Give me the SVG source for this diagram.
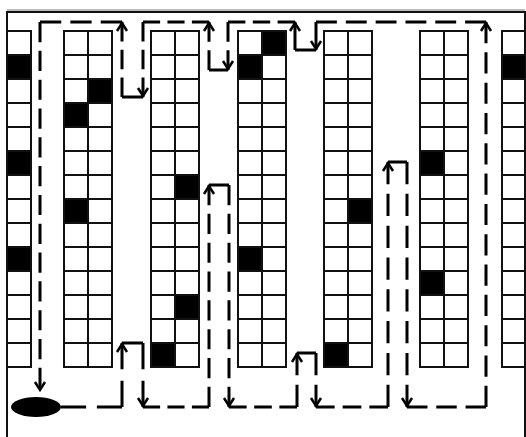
<svg xmlns="http://www.w3.org/2000/svg" width="526" height="437" viewBox="0 0 526 437">
<style>
.frame{fill:none;stroke:#111;stroke-width:2}
.shadow{fill:none;stroke:#bbb;stroke-width:2}
.grid{fill:none;stroke:#111;stroke-width:2}
.dark{fill:#000}
.route{fill:none;stroke:#000;stroke-width:3;stroke-dasharray:21 9}
.ah{fill:none;stroke:#000;stroke-width:2.5;stroke-linejoin:miter}
.start{fill:#000}
</style>
<defs>
<path id="g2" class="grid" d="M0,0H48V336H0Z M24,0V336 M0,24h48 M0,48h48 M0,72h48 M0,96h48 M0,120h48 M0,144h48 M0,168h48 M0,192h48 M0,216h48 M0,240h48 M0,264h48 M0,288h48 M0,312h48"/>
<path id="g1" class="grid" d="M0,0H24V336H0Z M0,24h24 M0,48h24 M0,72h24 M0,96h24 M0,120h24 M0,144h24 M0,168h24 M0,192h24 M0,216h24 M0,240h24 M0,264h24 M0,288h24 M0,312h24"/>
<path id="up" class="ah" d="M-5,9L0,1L5,9"/>
<path id="dn" class="ah" d="M-5,-9L0,-1L5,-9"/>
</defs>
<rect x="0" y="0" width="526" height="437" fill="#fff"/>
<path class="shadow" d="M7,10H525"/>
<path class="frame" d="M7,440V12H525V440"/>

<g id="rack0">
<rect class="dark" x="7" y="55" width="24" height="24"/>
<rect class="dark" x="7" y="151" width="24" height="24"/>
<rect class="dark" x="7" y="247" width="24" height="24"/>
<use href="#g1" x="7" y="31"/>
</g>
<g id="rack1">
<rect class="dark" x="88" y="79" width="24" height="24"/>
<rect class="dark" x="64" y="103" width="24" height="24"/>
<rect class="dark" x="64" y="199" width="24" height="24"/>
<use href="#g2" x="64" y="31"/>
</g>
<g id="rack2">
<rect class="dark" x="175" y="175" width="24" height="24"/>
<rect class="dark" x="175" y="295" width="24" height="24"/>
<rect class="dark" x="151" y="343" width="24" height="24"/>
<use href="#g2" x="151" y="31"/>
</g>
<g id="rack3">
<rect class="dark" x="262" y="31" width="24" height="24"/>
<rect class="dark" x="238" y="55" width="24" height="24"/>
<rect class="dark" x="238" y="247" width="24" height="24"/>
<use href="#g2" x="238" y="31"/>
</g>
<g id="rack4">
<rect class="dark" x="348" y="199" width="24" height="24"/>
<rect class="dark" x="324" y="343" width="24" height="24"/>
<use href="#g2" x="324" y="31"/>
</g>
<g id="rack5">
<rect class="dark" x="420" y="151" width="24" height="24"/>
<rect class="dark" x="420" y="271" width="24" height="24"/>
<use href="#g2" x="420" y="31"/>
</g>
<g id="rack6">
<rect class="dark" x="502" y="55" width="24" height="24"/>
<use href="#g1" x="502" y="31"/>
</g>

<g id="start">
<ellipse class="start" cx="36" cy="407" rx="25" ry="10"/>
</g>

<g id="connectors">
<line class="route" x1="61" y1="407" x2="122" y2="407" pathLength="51"/>
<line class="route" x1="122" y1="407" x2="122" y2="343" pathLength="51"/>
<line class="route" x1="122" y1="343" x2="143" y2="343" pathLength="21"/>
<line class="route" x1="143" y1="343" x2="143" y2="407" pathLength="51"/>
<line class="route" x1="143" y1="407" x2="209" y2="407" pathLength="81"/>
<line class="route" x1="209" y1="407" x2="209" y2="185" pathLength="231"/>
<line class="route" x1="209" y1="185" x2="229" y2="185" pathLength="21"/>
<line class="route" x1="229" y1="185" x2="229" y2="407" pathLength="231"/>
<line class="route" x1="229" y1="407" x2="297" y2="407" pathLength="81"/>
<line class="route" x1="297" y1="407" x2="297" y2="353" pathLength="51"/>
<line class="route" x1="297" y1="353" x2="316" y2="353" pathLength="21"/>
<line class="route" x1="316" y1="353" x2="316" y2="407" pathLength="51"/>
<line class="route" x1="316" y1="407" x2="388" y2="407" pathLength="81"/>
<line class="route" x1="388" y1="407" x2="388" y2="162" pathLength="231"/>
<line class="route" x1="388" y1="162" x2="407" y2="162" pathLength="21"/>
<line class="route" x1="407" y1="162" x2="407" y2="407" pathLength="231"/>
<line class="route" x1="407" y1="407" x2="486" y2="407" pathLength="81"/>
<line class="route" x1="486" y1="407" x2="486" y2="22" pathLength="381"/>
<line class="route" x1="486" y1="22" x2="316" y2="22" pathLength="171"/>
<line class="route" x1="316" y1="22" x2="316" y2="50" pathLength="21"/>
<line class="route" x1="316" y1="50" x2="295" y2="50" pathLength="21"/>
<line class="route" x1="295" y1="50" x2="295" y2="22" pathLength="21"/>
<line class="route" x1="295" y1="22" x2="228" y2="22" pathLength="81"/>
<line class="route" x1="228" y1="22" x2="228" y2="70" pathLength="51"/>
<line class="route" x1="228" y1="70" x2="209" y2="70" pathLength="21"/>
<line class="route" x1="209" y1="70" x2="209" y2="22" pathLength="51"/>
<line class="route" x1="209" y1="22" x2="143" y2="22" pathLength="81"/>
<line class="route" x1="143" y1="22" x2="143" y2="97" pathLength="81"/>
<line class="route" x1="143" y1="97" x2="122" y2="97" pathLength="21"/>
<line class="route" x1="122" y1="97" x2="122" y2="22" pathLength="81"/>
<line class="route" x1="122" y1="22" x2="40" y2="22" pathLength="81"/>
<line class="route" x1="40" y1="22" x2="40" y2="388" pathLength="381"/>
<use href="#up" x="122" y="343"/>
<use href="#dn" x="143" y="407"/>
<use href="#up" x="209" y="185"/>
<use href="#dn" x="229" y="407"/>
<use href="#up" x="297" y="353"/>
<use href="#dn" x="316" y="407"/>
<use href="#up" x="388" y="162"/>
<use href="#dn" x="407" y="407"/>
<use href="#up" x="486" y="22"/>
<use href="#dn" x="316" y="50"/>
<use href="#up" x="295" y="22"/>
<use href="#dn" x="228" y="70"/>
<use href="#up" x="209" y="22"/>
<use href="#dn" x="143" y="97"/>
<use href="#up" x="122" y="22"/>
<use href="#dn" x="40" y="391"/>
</g>
</svg>
